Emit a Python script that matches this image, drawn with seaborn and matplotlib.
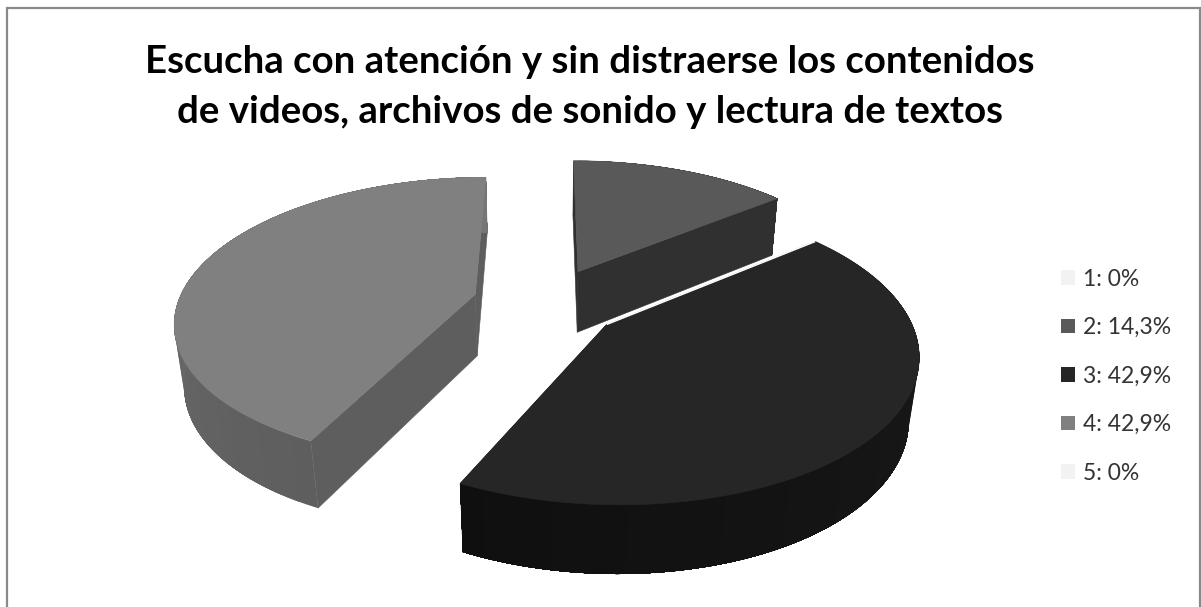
import numpy as np
import matplotlib
matplotlib.use("Agg")
import matplotlib.pyplot as plt
from matplotlib.patches import Polygon, Patch
import seaborn as sns

# Survey answers
categories = ["1", "2", "3", "4", "5"]
percentages = [0, 14.3, 42.9, 42.9, 0]
title_text = ("Escucha con atención y sin distraerse los contenidos\n"
              "de videos, archivos de sonido y lectura de textos")

# Greys per category: top face, cut face, outer wall (near end, far end)
top_colors = ["#f2f2f2", "#595959", "#262626", "#808080", "#f2f2f2"]
cut_colors = ["#f2f2f2", "#303030", "#1a1a1a", "#5e5e5e", "#f2f2f2"]
wall_near = ["#f2f2f2", "#303030", "#1c1c1c", "#5e5e5e", "#f2f2f2"]
wall_far = ["#f2f2f2", "#303030", "#0f0f0f", "#767676", "#f2f2f2"]

# Camera model of the exploded 3D pie, in figure pixels
CX, CY = 547, 302
RX, KY = 297, 140
PERSP = 0.175
Z_PERSP = 0.027
DEPTH = 62
WALL_TILT = 0.1
EXPLODE = 0.25

sns.set_theme(style="white")
plt.rcParams["font.family"] = ["Lato", "DejaVu Sans"]

fig = plt.figure(figsize=(12.01, 6.07), dpi=100, facecolor="white")
ax = fig.add_axes([0, 0, 1, 1])
ax.set_xlim(0, 1201)
ax.set_ylim(607, 0)
ax.axis("off")


def project(x, y, z):
    s_top = 1 / (1 + PERSP * y)
    s = 1 / (1 + PERSP * y + Z_PERSP * z)
    return CX + RX * x * s, CY - KY * y * s_top + DEPTH * z * (1 - WALL_TILT * y)


def mix(c0, c1, t):
    a, b = np.array(matplotlib.colors.to_rgb(c0)), np.array(matplotlib.colors.to_rgb(c1))
    return tuple(a + (b - a) * t)


def draw_slice(i, a0, a1):
    mid = np.radians((a0 + a1) / 2)
    ox, oy = EXPLODE * np.sin(mid), EXPLODE * np.cos(mid)
    ang = np.radians(np.linspace(a0, a1, 121))
    xs, ys = ox + np.sin(ang), oy + np.cos(ang)

    # cut faces running from the apex to each end of the arc
    for k in (0, -1):
        quad = [project(ox, oy, 0), project(xs[k], ys[k], 0),
                project(xs[k], ys[k], 1), project(ox, oy, 1)]
        ax.add_patch(Polygon(quad, closed=True, fc=cut_colors[i], ec=cut_colors[i], lw=0.4))
    # outer wall: each strip runs on to the end of the arc, so the next one paints over its seam
    for j in range(0, len(ang) - 1, 3):
        t = j / (len(ang) - 2)
        c = mix(wall_near[i], wall_far[i], t)
        quad = ([project(x, y, 0) for x, y in zip(xs[j:], ys[j:])]
                + [project(x, y, 1) for x, y in zip(xs[j:][::-1], ys[j:][::-1])])
        ax.add_patch(Polygon(quad, closed=True, fc=c, ec="none", lw=0))
    # top face
    outline = [project(ox, oy, 0)] + [project(x, y, 0) for x, y in zip(xs, ys)]
    ax.add_patch(Polygon(outline, closed=True, fc=top_colors[i], ec=top_colors[i], lw=0.4))
    return project(ox, oy, 0), project(xs[0], ys[0], 0)


# Slices go clockwise from north; the ends are found first so the draw order can differ
edges = np.concatenate([[0], np.cumsum(percentages)]) / np.sum(percentages) * 360
spans = {i: (edges[i], edges[i + 1]) for i in range(len(categories)) if percentages[i] > 0}
for i in (1, 3, 2):
    apex, start = draw_slice(i, *spans[i])
    if i == 2:
        ax.plot([apex[0], start[0]], [apex[1], start[1]], color="white", lw=1.1,
                solid_capstyle="butt")

ax.text(590, 87, title_text, ha="center", va="center", fontsize=27.6, fontweight="bold",
        color="black", linespacing=1.58)

# Legend entries state the same percentages the slices are drawn from
labels = [f"{c}: {p:g}%".replace(".", ",") for c, p in zip(categories, percentages)]
handles = [Patch(fc=top_colors[i], ec="none") for i in range(len(categories))]
ax.legend(handles, labels, loc="center left", bbox_to_anchor=(1061, 376),
          bbox_transform=ax.transData, frameon=False, fontsize=16.5, labelcolor="#333333",
          handlelength=0.61, handleheight=0.61, handletextpad=0.33, labelspacing=1.2,
          borderpad=0, borderaxespad=0)

# Chart-area frame on the left, top and right sides only
ax.plot([7, 7, 1200, 1200], [607, 8, 8, 607], color="#8a8a8a", lw=1.6, solid_joinstyle="miter")

fig.savefig("out.png", dpi=100, facecolor="white")
